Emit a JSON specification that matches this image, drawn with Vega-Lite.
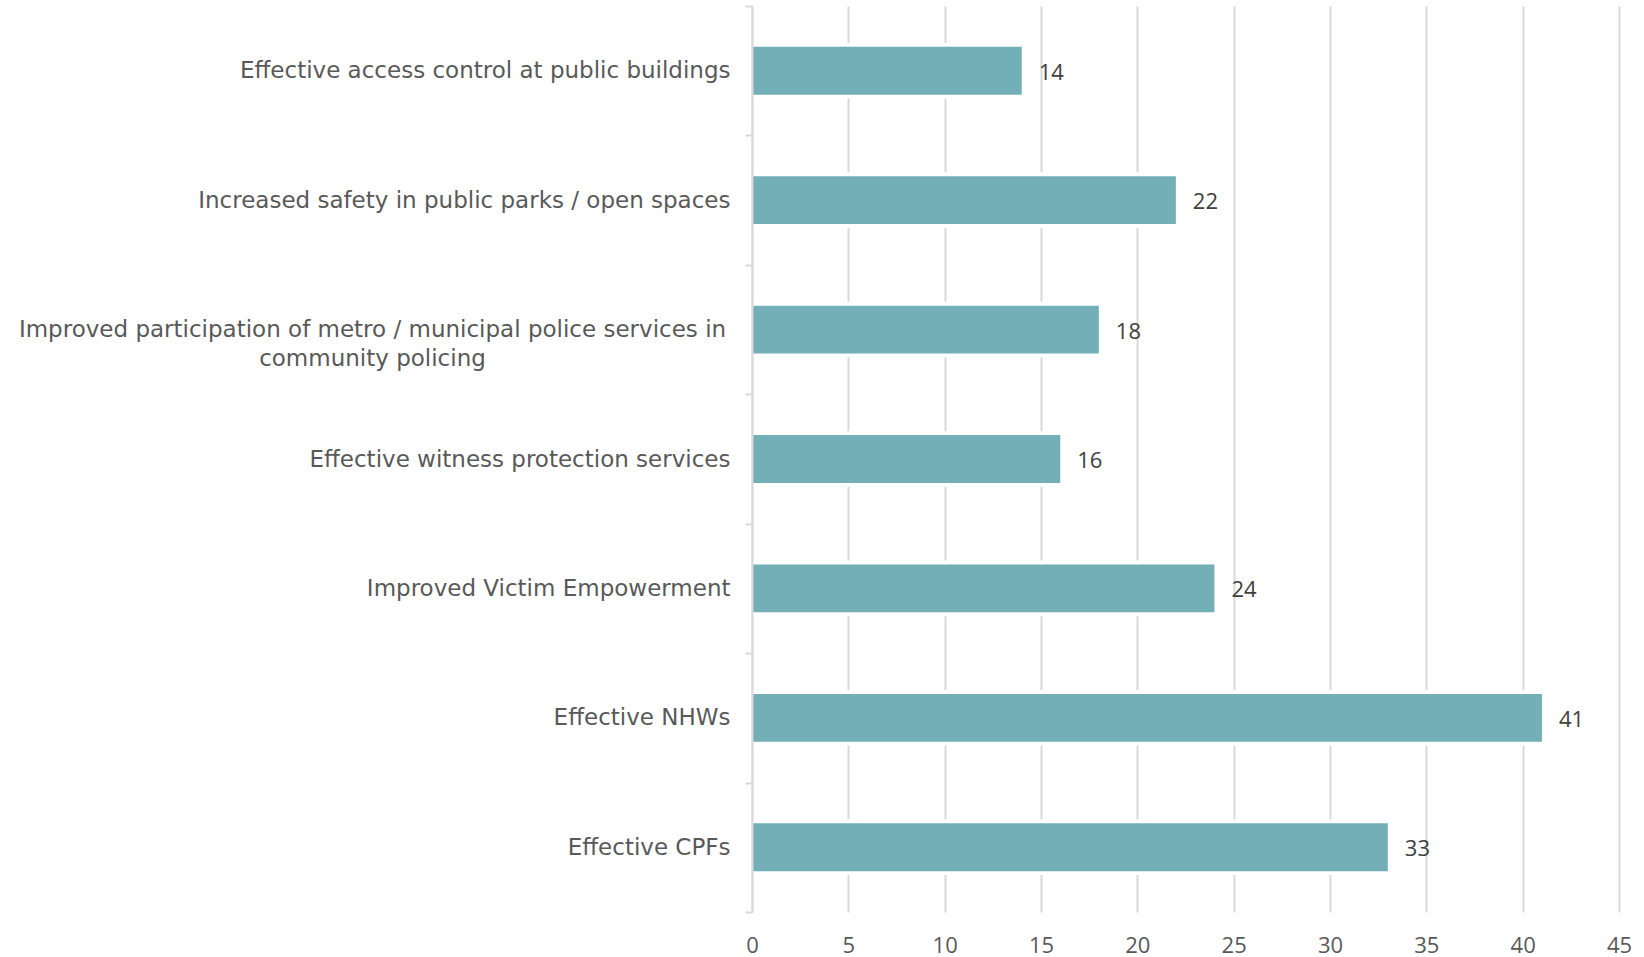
{
  "$schema": "https://vega.github.io/schema/vega-lite/v6.json",
  "width": 867,
  "height": 906,
  "autosize": {"type": "none"},
  "padding": {"left": 752, "top": 6, "right": 25, "bottom": 45},
  "background": "white",
  "config": {
    "view": {"stroke": null},
    "font": "Open Sans"
  },
  "data": {
    "values": [
      {"category": "Effective access control at public buildings", "value": 14},
      {"category": "Increased safety in public parks / open spaces", "value": 22},
      {"category": "Improved participation of metro / municipal police services in community policing", "value": 18},
      {"category": "Effective witness protection services", "value": 16},
      {"category": "Improved Victim Empowerment", "value": 24},
      {"category": "Effective NHWs", "value": 41},
      {"category": "Effective CPFs", "value": 33}
    ]
  },
  "encoding": {
    "y": {
      "field": "category",
      "type": "nominal",
      "sort": null,
      "scale": {"paddingInner": 0, "paddingOuter": 0},
      "axis": {
        "title": null,
        "zindex": 2,
        "domainColor": "#d9d9d9",
        "domainWidth": 2,
        "tickColor": "#d9d9d9",
        "tickWidth": 2,
        "tickSize": 7,
        "tickBand": "extent",
        "grid": false,
        "labelFont": "DejaVu Sans",
        "labelFontSize": 23,
        "labelColor": "#595959",
        "labelLimit": 800,
        "labelLineHeight": 29,
        "labelAlign": {"condition": {"test": "indexof(datum.label, 'participation') >= 0", "value": "center"}, "value": "right"},
        "labelPadding": {"condition": {"test": "indexof(datum.label, 'participation') >= 0", "value": 373}, "value": 15},
        "labelExpr": "indexof(datum.label, ' services in ') >= 0 ? split(replace(datum.label, ' services in ', ' services in|'), '|') : datum.label"
      }
    }
  },
  "layer": [
    {
      "mark": {"type": "bar", "color": "white", "height": {"band": 0.43}},
      "encoding": {
        "x": {
          "field": "value",
          "type": "quantitative",
          "scale": {"domain": [0, 45], "nice": false},
          "axis": {
            "title": null,
            "values": [0, 5, 10, 15, 20, 25, 30, 35, 40, 45],
            "domain": false,
            "ticks": false,
            "grid": true,
            "gridColor": "#d9d9d9",
            "gridWidth": 2,
            "labelFlush": false,
            "labelFont": "Open Sans",
            "labelFontSize": 22,
            "labelColor": "#595959",
            "labelPadding": 23
          }
        }
      }
    },
    {
      "mark": {"type": "bar", "color": "#72afb6", "height": {"band": 0.37}},
      "encoding": {
        "x": {"field": "value", "type": "quantitative"}
      }
    },
    {
      "mark": {"type": "text", "align": "left", "baseline": "middle", "dx": 17, "dy": 2, "fontSize": 22, "color": "#404040", "font": "Open Sans"},
      "encoding": {
        "x": {"field": "value", "type": "quantitative"},
        "text": {"field": "value", "type": "quantitative"}
      }
    }
  ]
}
